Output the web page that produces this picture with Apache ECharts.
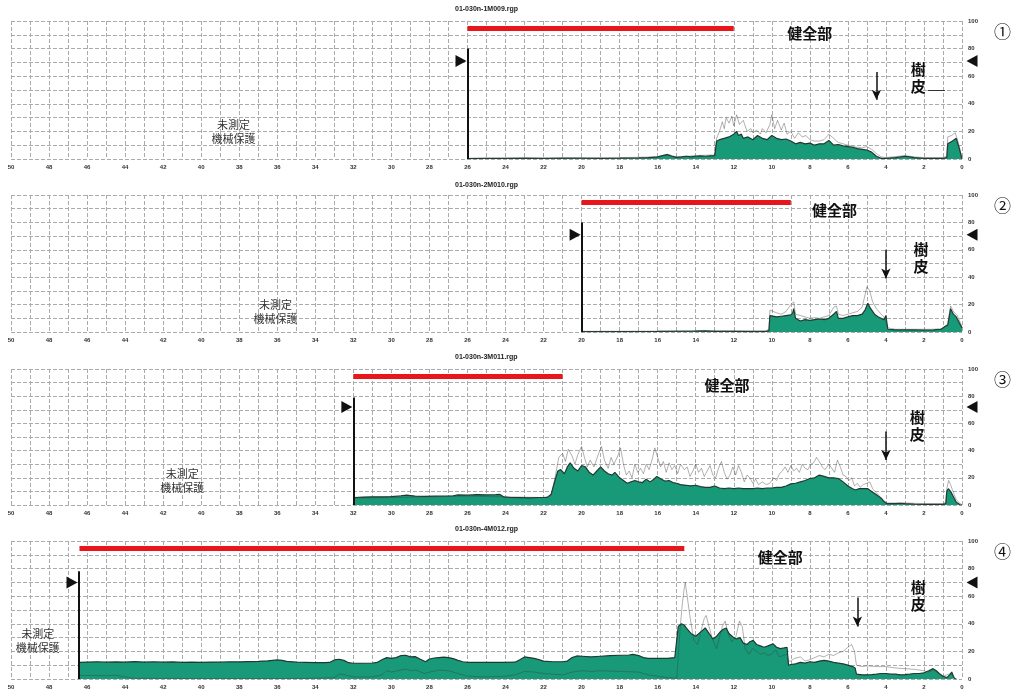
<!DOCTYPE html>
<html lang="ja">
<head>
    <meta charset="UTF-8">
    <title>01-030n</title>
    <script src="https://cdn.jsdelivr.net/npm/echarts@6/dist/echarts.min.js"></script>
</head>
<body style="margin:0;background:#fff">
<div id="main" style="width:1017px;height:697px"></div>
<script>
    // file names shown above each panel
    const fileNames = ['01-030n-1M009.rgp', '01-030n-2M010.rgp', '01-030n-3M011.rgp', '01-030n-4M012.rgp'];
    const panelMarks = ['①', '②', '③', '④'];

    // [distance, value] — green (main) trace
    const green1 = [[26,0.3],[25,0.5],[24,0.5],[23,0.6],[22,0.5],[21,0.7],[20,0.6],[19,0.5],[18,0.6],[17,0.8],[16.5,1],[16,1.5],[15.75,2.5],[15.5,3.2],[15.25,2],[15,1.2],[14.75,1.5],[14.5,2],[14.25,1.5],[14,2],[13.75,2.2],[13.5,2],[13.25,2.3],[13,2.5],[12.9,13],[12.75,14],[12.5,15],[12.25,16],[12,18],[11.85,20],[11.75,17],[11.6,18],[11.5,15],[11.25,16],[11,14],[10.75,17],[10.5,15],[10.25,14],[10,17],[9.75,15],[9.5,14],[9.25,14.5],[9,13],[8.75,11],[8.5,12],[8.25,11],[8,11.5],[7.75,10],[7.5,11],[7.25,11],[7,13.5],[6.75,10],[6.5,10.5],[6.25,9.5],[6,9],[5.75,8.5],[5.5,7.5],[5.25,7],[5,6.5],[4.75,5],[4.5,2],[4.25,0.5],[4,0.5],[3.5,1],[3,2],[2.75,1.5],[2.5,1],[2,0.5],[1.5,0.4],[1,0.5],[0.8,1],[0.75,11],[0.5,13],[0.3,15],[0.15,8],[0,0]];
    const grey1 = [[26,0.5],[20,0.5],[16,1.5],[15.5,3.5],[15,1.5],[14,2.5],[13,3],[12.9,15],[12.75,20],[12.6,27],[12.5,22],[12.4,30],[12.25,26],[12.1,31],[12,24],[11.85,32],[11.7,25],[11.5,28],[11.3,20],[11.1,22],[11,19],[10.8,21],[10.6,18],[10.5,22],[10.3,19],[10.1,25],[10,32],[9.85,22],[9.7,28],[9.5,21],[9.35,26],[9.2,18],[9,20],[8.8,15],[8.6,19],[8.4,16],[8.2,17],[8,14],[7.75,13],[7.5,13],[7.25,14],[7,18],[6.75,15],[6.5,12],[6.25,11],[6,10],[5.75,9],[5.5,8.5],[5.25,8],[5,9],[4.75,7],[4.5,4],[4.25,1.5],[4,1],[3,2.5],[2.5,1.5],[2,1],[1,1],[0.8,2],[0.75,16],[0.55,17],[0.35,19],[0.2,12],[0,1]];

    const green2 = [[20,0.3],[18,0.3],[16,0.4],[14,0.6],[13.5,0.8],[13,0.5],[12,0.4],[11,0.3],[10.3,0.5],[10.15,1],[10.1,12],[10,13],[9.75,11],[9.5,11.5],[9.25,12],[9,12.5],[8.9,14],[8.85,17],[8.75,10],[8.5,8],[8.25,9],[8,8.5],[7.75,9],[7.5,9.5],[7.25,9],[7,10],[6.75,13],[6.6,15],[6.5,10],[6.25,10],[6,11],[5.75,12],[5.5,12],[5.25,13],[5.1,16],[4.95,21],[4.8,17],[4.6,13],[4.4,11],[4.25,10],[4.1,9],[4,12],[3.9,2],[3.5,1.5],[3,1.5],[2.5,1.5],[2,1.3],[1.5,1.5],[1.1,2],[0.9,4],[0.75,5],[0.6,17],[0.45,13],[0.3,11],[0.15,7],[0,3]];
    const grey2 = [[20,0.5],[16,0.6],[14,1],[12,0.8],[10.3,1],[10.15,2],[10.1,16],[10,17],[9.75,14],[9.5,13],[9.25,15],[9,20],[8.85,22],[8.75,13],[8.5,12],[8.25,11],[8,10],[7.75,10.5],[7.5,10],[7.25,11],[7,12],[6.75,18],[6.6,19],[6.5,13],[6.25,12],[6,13],[5.75,14],[5.5,15],[5.25,18],[5.1,27],[5,33],[4.85,30],[4.7,22],[4.5,17],[4.25,13],[4.1,11],[4,10],[3.9,3],[3.5,2],[2.5,2],[1.5,2],[1,2.5],[0.75,6],[0.6,19],[0.45,15],[0.25,12],[0,4]];

    const green3 = [[32,0],[31.95,5.5],[31.5,5.8],[31,6],[30.5,6],[30,6.2],[29.5,6.8],[29.2,7.2],[28.75,6.5],[28.25,6.3],[27.75,6.5],[27.25,6.6],[26.75,6.8],[26.5,7.4],[26,7.2],[25.5,7.6],[25,7.4],[24.5,7.6],[24.3,7.8],[24.1,6],[23.75,5.5],[23.25,5.4],[22.75,5.3],[22.25,5.5],[21.8,5.6],[21.6,8],[21.4,18],[21.25,25],[21.1,26],[20.9,23],[20.75,28],[20.6,31],[20.4,27],[20.2,25],[20,29],[19.8,28],[19.6,24],[19.4,22],[19.2,25],[19,28],[18.8,25],[18.6,23],[18.4,22],[18.25,24],[18,20],[17.8,18],[17.6,16],[17.4,17],[17.2,18],[17,17],[16.8,16.5],[16.6,19],[16.4,17],[16.2,19],[16.05,21],[15.8,19],[15.6,17.5],[15.4,18],[15.2,16.5],[15,16],[14.8,15],[14.5,14.5],[14.25,14],[14,14.5],[13.75,13.5],[13.5,13],[13.25,13],[13,14],[12.75,12.5],[12.5,12],[12.25,12.5],[12,12],[11.75,12.5],[11.5,12],[11.25,12],[11,12],[10.75,12.5],[10.5,12],[10.25,12.5],[10,12.5],[9.75,13],[9.5,13],[9.25,14],[9,15.5],[8.75,16],[8.5,17],[8.25,18],[8,19.5],[7.75,20],[7.5,22],[7.25,21],[7,20],[6.75,20],[6.5,19.5],[6.25,17],[6,14],[5.75,12],[5.6,11],[5.4,12],[5.2,12],[4.95,12],[4.75,10],[4.5,7.5],[4.25,5],[4.1,2.5],[3.95,1],[3.5,1],[3.25,1.3],[3,1],[2.5,0.6],[2,0.5],[1.5,0.4],[1,0.5],[0.85,1],[0.8,10],[0.72,12],[0.6,10],[0.45,6],[0.3,2],[0.1,0.2],[0,0]];
    const grey3 = [[32,0],[31.95,5],[30,5.5],[28,6],[26,6.5],[24,6],[22,5.5],[21.6,7],[21.4,20],[21.2,35],[21,38],[20.85,32],[20.7,41],[20.5,36],[20.35,30],[20.2,37],[20,43],[19.85,35],[19.7,28],[19.55,33],[19.35,28],[19.1,38],[18.95,43],[18.8,33],[18.6,27],[18.45,35],[18.3,30],[18.1,36],[17.95,42],[17.8,30],[17.65,22],[17.5,25],[17.35,20],[17.2,30],[17.05,24],[16.9,27],[16.75,23],[16.6,30],[16.45,26],[16.3,33],[16.15,42],[16,35],[15.85,28],[15.7,32],[15.55,24],[15.4,31],[15.25,26],[15.1,29],[14.95,23],[14.8,30],[14.6,26],[14.45,28],[14.3,21],[14.15,25],[14,30],[13.85,24],[13.7,27],[13.55,21],[13.4,25],[13.25,29],[13.1,22],[12.95,20],[12.8,27],[12.65,32],[12.5,24],[12.35,19],[12.2,22],[12.05,28],[11.9,22],[11.75,29],[11.6,24],[11.45,17],[11.3,22],[11.15,20],[11,16],[10.85,19],[10.7,15],[10.5,17],[10.3,15],[10.1,16],[9.9,20],[9.75,18],[9.6,23],[9.45,25],[9.3,28],[9.15,24],[9,29],[8.85,25],[8.7,27],[8.55,24],[8.4,30],[8.25,27],[8.1,26],[7.95,30],[7.8,31],[7.65,35],[7.5,32],[7.35,28],[7.2,26],[7,30],[6.85,27],[6.7,24],[6.55,33],[6.4,28],[6.25,22],[6.1,21],[5.95,18],[5.8,20],[5.65,14],[5.5,16],[5.35,13],[5.2,15],[5,16],[4.85,17],[4.7,12],[4.5,9],[4.3,6],[4.1,3],[3.95,1.5],[3,1.5],[2,1],[1,1],[0.85,2],[0.8,12],[0.7,18],[0.6,15],[0.45,9],[0.3,4],[0.1,1],[0,0]];

    const green4 = [[46.45,0],[46.4,12],[46.3,12.5],[46,12.3],[45.5,12.5],[45,12.2],[44.5,12.4],[44,12.3],[43.5,12.6],[43,12.3],[42.5,12.5],[42,12.2],[41.5,12.4],[41,12.1],[40.5,12.2],[40,12],[39.5,12.3],[39,12.2],[38.5,12.5],[38,12.4],[37.5,12.6],[37,12.8],[36.5,13.2],[36,13.8],[35.75,13.5],[35.5,12.8],[35,12.2],[34.5,12],[34,11.8],[33.5,11.8],[33.25,12],[33,13.8],[32.75,14.3],[32.5,13.5],[32.25,11.8],[32,11.4],[31.5,11.4],[31,11.6],[30.75,12],[30.5,14],[30.25,15.5],[30,15],[29.75,15.5],[29.5,17],[29.25,17.2],[29,16],[28.75,16.2],[28.5,14.5],[28.2,12.5],[28,14.5],[27.75,15.2],[27.5,15.5],[27.25,15.8],[27,15.5],[26.75,14.8],[26.5,13.5],[26.25,12.5],[26,12],[25.5,12],[25,12],[24.5,12],[24,12],[23.5,12.2],[23.25,14],[23,16],[22.75,15.5],[22.5,15],[22.25,14],[22,13],[21.5,12.5],[21,12.5],[20.75,13],[20.5,15.5],[20.25,16.7],[20,16.5],[19.5,16],[19,16.5],[18.5,17],[18,17.2],[17.5,17.4],[17.3,17.9],[17,17],[16.75,15.5],[16.5,15],[16,15],[15.5,15],[15.1,15.5],[15,16],[14.92,38],[14.75,40],[14.6,39],[14.5,37],[14.25,33],[14,31],[13.75,34],[13.5,37],[13.3,33],[13.1,29],[12.9,31],[12.72,34],[12.55,36],[12.4,37],[12.25,33],[12,30],[11.85,29],[11.67,30],[11.5,26],[11.3,25],[11.15,27],[10.98,28],[10.8,25],[10.6,24],[10.4,23],[10.2,24],[9.93,25.5],[9.75,23],[9.55,22],[9.35,22.5],[9.2,23],[9.12,10],[9,10.5],[8.75,11],[8.5,12],[8.25,11.5],[8,12.5],[7.75,12],[7.5,13],[7.25,13.5],[7,13],[6.75,12],[6.5,11.5],[6.25,11],[6,10],[5.75,9],[5.62,8],[5.55,3.5],[5.25,3],[5,3],[4.75,3.2],[4.5,3.5],[4.25,4],[4,4],[3.75,3.5],[3.5,3.5],[3.25,3],[3,3.2],[2.75,3.5],[2.5,4],[2.25,4],[2,4.5],[1.75,6],[1.52,7.5],[1.35,6],[1.2,4],[1,2],[0.8,1],[0.65,3],[0.54,5],[0.45,2],[0.4,0.5],[0.3,0]];
    const grey4 = [[46.45,0],[46.4,2.5],[46,2.6],[45,2.4],[44.5,2.8],[44,1.5],[43.5,0.5],[40,0.3],[36,0.3],[34,0.5],[33,1],[32.75,3.5],[32.5,3.2],[32,1.5],[31,1.5],[30.5,3],[30.25,6],[30,5],[29.5,6.5],[29.25,7.2],[29,6],[28.75,6.5],[28.25,4],[28,5],[27.5,6.5],[27,6],[26.5,4],[26,2],[25,1.5],[24,2],[23.5,3],[23,5.5],[22.5,5],[22,4],[21,3],[20.5,5],[20,6],[19.5,5.5],[19,6],[18,5.5],[17,5],[16.5,3],[16,2],[15.5,1],[15,0.5],[14.9,0.5],[14.8,40],[14.7,55],[14.6,66],[14.55,70],[14.45,60],[14.3,45],[14.1,28],[13.9,25],[13.7,36],[13.55,44],[13.45,46],[13.3,38],[13.1,28],[12.9,22],[12.75,30],[12.6,38],[12.45,42],[12.3,33],[12.1,27],[11.9,30],[11.7,42],[11.55,38],[11.4,22],[11.2,18],[11,22],[10.8,20],[10.6,18],[10.4,19],[10.2,17],[10,18],[9.8,21],[9.6,16],[9.4,17],[9.2,18],[9.12,13],[9,13],[8.8,15],[8.5,16],[8.25,13],[8,14],[7.75,15.5],[7.5,17],[7.25,16],[7,18],[6.75,17],[6.5,19],[6.25,20],[6,23],[5.8,25],[5.65,20],[5.55,10],[5.25,9],[5,9.5],[4.5,9],[4,9],[3.5,8],[3,7.5],[2.5,7],[2,6],[1.75,5],[1.5,6.5],[1.2,4],[1,2],[0.6,4],[0.5,4],[0.35,0]];

    const greens = [green1, green2, green3, green4];
    const greys = [grey1, grey2, grey3, grey4];

    // annotations (data units: distance, value)
    const redBars = [[26, 12], [20, 9], [32, 21], [46.4, 14.6]];
    const probeStart = [26, 20, 32, 46.45];
    const probeTop = [80, 80, 79, 78];
    const triangleAt = [71, 71, 72, 70];
    const arrowX = [4.5, 4.0, 4.0, 5.5];
    const arrowY = [[63, 43], [60, 39], [54, 33], [59, 38]];
    const healthyAt = [[8.0, 91], [6.7, 89], [12.35, 88], [9.55, 88]];
    const barkAt = [[2.3, 59], [2.15, 54], [2.35, 58], [2.3, 60]];
    const untestedAt = [[38.3, 20], [36.1, 15], [41.0, 18], [48.6, 28]];

    const gridTops = [21, 195, 369, 541];
    const gridHeights = [138, 137, 136, 138];
    const titleTops = [6, 182, 354, 526];

    const cjk = '"Noto Sans CJK JP", "Noto Sans", sans-serif';
    const gridLine = {color: '#ababab', type: [4, 2], width: 1};

    const grids = [], xAxes = [], yAxes = [], series = [], graphics = [];

    for (let k = 0; k < 4; k++) {
        grids.push({left: 11, width: 951, top: gridTops[k], height: gridHeights[k]});
        xAxes.push({
            type: 'value', gridIndex: k, inverse: true, min: 0, max: 50, interval: 1,
            axisLine: {show: false}, axisTick: {show: false},
            splitLine: {show: true, lineStyle: gridLine},
            axisLabel: {
                fontSize: 6, fontWeight: 'bold', color: '#333', margin: 5, fontFamily: 'Liberation Sans',
                showMinLabel: true, showMaxLabel: true, hideOverlap: false,
                formatter: v => (v % 2 === 0 ? String(v) : '')
            }
        });
        yAxes.push({
            type: 'value', gridIndex: k, position: 'right', min: 0, max: 100, interval: 10,
            axisLine: {show: false}, axisTick: {show: false},
            splitLine: {show: true, lineStyle: gridLine},
            axisLabel: {
                fontSize: 6, fontWeight: 'bold', color: '#333', margin: 6, fontFamily: 'Liberation Sans',
                formatter: v => (v % 20 === 0 ? String(v) : '')
            }
        });

        series.push({
            type: 'line', xAxisIndex: k, yAxisIndex: k, data: greens[k],
            showSymbol: false, z: 2,
            lineStyle: {color: '#1f3a31', width: 1.2},
            areaStyle: {color: '#189a79', opacity: 1},
            markLine: {
                silent: true, symbol: 'none', animation: false, label: {show: false},
                data: [
                    [{coord: [redBars[k][0], 95], lineStyle: {color: '#e8161b', width: 5, type: 'solid', cap: 'butt'}},
                        {coord: [redBars[k][1], 95]}],
                    [{coord: [probeStart[k], probeTop[k]], lineStyle: {color: '#111', width: 2, type: 'solid'}},
                        {coord: [probeStart[k], 0]}],
                    [{coord: [arrowX[k], arrowY[k][0]], symbol: 'none', lineStyle: {color: '#111', width: 1.5, type: 'solid'}},
                        {coord: [arrowX[k], arrowY[k][1]], symbol: 'arrow', symbolSize: [7, 10]}]
                ].concat(k === 0 ? [[{coord: [1.8, 50], lineStyle: {color: '#333', width: 1, type: 'solid'}}, {coord: [0.9, 50]}]] : [])
            },
            markPoint: {
                silent: true, animation: false,
                data: [
                    {coord: [probeStart[k], triangleAt[k]], symbol: 'triangle', symbolRotate: -90,
                        symbolSize: [12, 11], symbolOffset: [-6.5, 0], itemStyle: {color: '#111'}, label: {show: false}},
                    {coord: [0, triangleAt[k]], symbol: 'triangle', symbolRotate: 90,
                        symbolSize: [12, 11], symbolOffset: [10, 0], itemStyle: {color: '#111'}, label: {show: false}},
                    {coord: healthyAt[k], symbolSize: 0, itemStyle: {color: 'transparent'},
                        label: {show: true, position: 'inside', formatter: '健全部', fontSize: 15, fontWeight: 'bold', color: '#111', fontFamily: cjk}},
                    {coord: barkAt[k], symbolSize: 0, itemStyle: {color: 'transparent'},
                        label: {show: true, position: 'inside', formatter: '樹\n皮', fontSize: 15, lineHeight: 17, fontWeight: 'bold', color: '#111', fontFamily: cjk}},
                    {coord: untestedAt[k], symbolSize: 0, itemStyle: {color: 'transparent'},
                        label: {show: true, position: 'inside', formatter: '未測定\n機械保護', fontSize: 11, lineHeight: 14, color: '#333', fontFamily: cjk}}
                ]
            }
        });
        series.push({
            type: 'line', xAxisIndex: k, yAxisIndex: k, data: greys[k],
            showSymbol: false, z: 3, silent: true,
            lineStyle: {color: 'rgba(60,60,60,0.5)', width: 0.8}
        });

        graphics.push({
            type: 'text', left: 455, top: titleTops[k],
            style: {text: fileNames[k], font: 'bold 7px "Liberation Sans"', fill: '#222'}
        });
        graphics.push({
            type: 'text', left: 994, top: gridTops[k] + 2,
            style: {text: panelMarks[k], font: '17px ' + cjk, fill: '#111'}
        });
    }

    const chart = echarts.init(document.getElementById('main'));
    chart.setOption({
        animation: false,
        backgroundColor: '#fff',
        grid: grids,
        xAxis: xAxes,
        yAxis: yAxes,
        series: series,
        graphic: graphics
    });
</script>
</body>
</html>
